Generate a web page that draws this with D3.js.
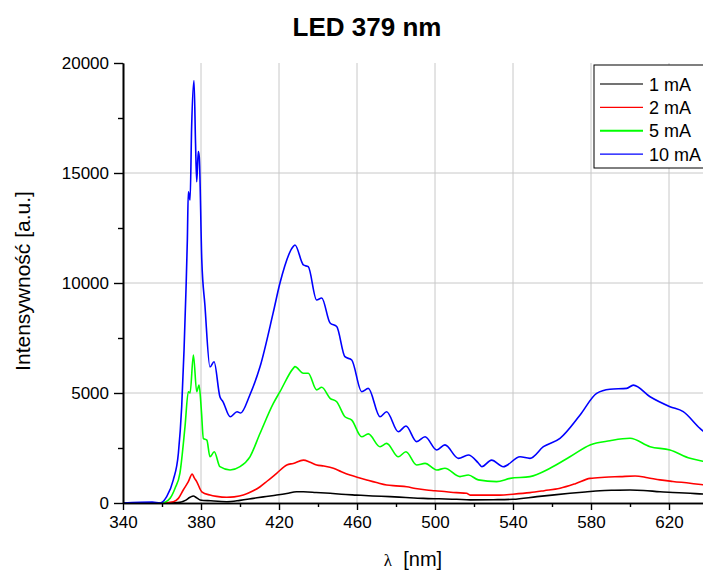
<!DOCTYPE html>
<html><head><meta charset="utf-8">
<script src="https://cdn.jsdelivr.net/npm/d3@7"></script>
<style>body{margin:0;background:#fff}svg{display:block}text{font-family:"Liberation Sans",Arial,sans-serif}</style>
</head><body><svg id="c" width="703" height="570"></svg>
<script>
const xTicks = [340,380,420,460,500,540,580,620];
const xMinorTicks = [360,400,440,480,520,560,600,640];
const yTicks = [0,5000,10000,15000,20000];
const yMinorTicks = [2500,7500,12500,17500];
const seriesNames = ["1 mA","2 mA","5 mA","10 mA"];
const seriesColors = ["#000000","#ff0000","#00ff00","#0000ff"];

const wl1  = [340,355,368,372,374.4,376.1,377.5,379.5,385,393.2,400,406.8,412,418.8,424,429,432.5,439,446.2,452,459.8,468,476.9,485,494,502,511.1,518,530,540,552.3,560,569.2,577,584.6,592,600,607,615.4,622,630.8,640,650];
const int1 = [0,0,20,120,260,320,250,140,100,60,120,210,280,360,430,510,510,480,440,400,360,320,290,250,210,190,170,140,150,170,290,360,440,500,560,580,590,570,510,480,440,400,380];

const wl2  = [340,360,365.8,368.4,370.9,373.5,375.5,376.5,377.8,380.4,384.6,388,393.2,397,401.7,406,410.3,414,418.8,424,427.3,432.5,436,439.3,443,447.9,452,456.4,461,465,470,475.2,480,485.5,490,495.7,500,505.9,511,516.2,518,525,533.3,540,548.7,556,564.1,572,579.5,587,594.9,602.6,609,615.4,622,630.8,640,650];
const int2 = [0,0,60,210,590,970,1320,1150,970,510,360,300,260,280,360,520,740,1000,1350,1730,1800,1950,1850,1730,1680,1580,1420,1270,1150,1050,930,820,780,740,660,590,560,510,470,440,360,360,360,400,470,560,670,880,1120,1170,1200,1230,1150,1050,980,900,800,720];

const wl5  = [340,360,364.1,366.7,369.2,371.8,373.5,374.4,376.1,377.8,379,380.2,381.2,383,384.6,386.8,389.7,394.9,400,405.1,410.3,417.1,420.5,427.3,428.2,432.5,435,439.3,441.9,446.2,449.6,453.8,457.3,462.4,465.8,471.8,475.2,481.2,485.1,490.6,494.9,500.9,505.1,512.8,517.1,522.2,531.6,538.5,548.7,559,569.2,579.5,589.7,600,610.3,620.5,630.8,637.4,645,650];
const int5 = [0,0,210,670,1360,3470,5060,5000,6730,5060,5360,4200,2940,2860,2100,2330,1650,1500,1650,2100,3170,4530,5060,6120,6200,5900,5900,5140,5260,4760,4600,3920,3770,3010,3140,2560,2710,2100,2330,1730,1800,1500,1580,1200,1270,1050,970,1120,1200,1580,2100,2640,2830,2940,2560,2410,2030,1900,1700,1600];

const wl10  = [340,355,359,362.4,365.8,368.4,370.1,371.3,372.3,373,373.5,374.4,375.2,376.4,377.2,377.8,378.6,379.1,380.4,382,384.6,386.7,389.7,391.3,395,398.5,400.3,405,410.3,417,420.5,427.2,428.2,432.5,435,439.3,441.9,446.2,449.6,453.8,457.3,462.4,465.8,471.8,475.2,481.2,485.1,490.6,494.9,500.9,505.1,512,517.1,522.2,524,529,535,543.6,548.7,555.6,564.1,574.4,582.9,589.7,598.3,601.7,610.3,620.5,627.3,635.9,640,650];
const int10 = [0,40,0,290,1050,2260,4380,6950,9680,11950,14150,13770,17100,19200,16350,14600,15970,15740,11050,9000,6180,6420,4830,4600,3920,4150,4090,4900,6200,8640,10000,11650,11730,10820,10740,9230,9320,8180,8020,6650,6500,5060,5210,3920,4150,3240,3500,2790,3010,2410,2640,2030,2180,1820,1650,1950,1650,2100,2030,2560,2940,4000,4980,5170,5210,5360,4830,4380,4150,3390,3100,2800];

const series = [
  {name:seriesNames[0], color:seriesColors[0], wl:wl1, v:int1},
  {name:seriesNames[1], color:seriesColors[1], wl:wl2, v:int2},
  {name:seriesNames[2], color:seriesColors[2], wl:wl5, v:int5},
  {name:seriesNames[3], color:seriesColors[3], wl:wl10, v:int10}
];

const svg = d3.select("#c");
const L = 123, T = 63, B = 503;
const x = d3.scaleLinear().domain([340,660]).range([L, L + 320*1.95]);
const y = d3.scaleLinear().domain([0,20000]).range([B, T]);
const R = x(660);

svg.append("defs").append("clipPath").attr("id","clip")
  .append("rect").attr("x",L).attr("y",T).attr("width",R-L).attr("height",B-T);

// grid
const g = svg.append("g");
g.selectAll(".vg").data(xTicks.filter(d=>d>340)).enter().append("line")
  .attr("x1",d=>x(d)).attr("x2",d=>x(d)).attr("y1",T).attr("y2",B)
  .attr("stroke","#c8c8c8").attr("stroke-width",1);
g.selectAll(".hg").data([5000,10000,15000]).enter().append("line")
  .attr("x1",L).attr("x2",R).attr("y1",d=>y(d)).attr("y2",d=>y(d))
  .attr("stroke","#c8c8c8").attr("stroke-width",1);

// lines
const line = d3.line().curve(d3.curveMonotoneX);
const lg = svg.append("g").attr("clip-path","url(#clip)");
series.forEach(s=>{
  lg.append("path")
    .attr("d", line(s.wl.map((w,i)=>[x(w), y(s.v[i])])))
    .attr("fill","none").attr("stroke",s.color).attr("stroke-width",1.6);
});

// axes
const xAxis = d3.axisBottom(x).tickValues(xTicks).tickSize(7).tickSizeOuter(0).tickPadding(6).tickFormat(d3.format("d"));
const xMinor = d3.axisBottom(x).tickValues(xMinorTicks).tickSize(4).tickSizeOuter(0).tickFormat("");
const yAxis = d3.axisLeft(y).tickValues(yTicks).tickSize(9).tickSizeOuter(0).tickPadding(5).tickFormat(d3.format("d"));
const yMinor = d3.axisLeft(y).tickValues(yMinorTicks).tickSize(5).tickSizeOuter(0).tickFormat("");

function styleAxis(sel){
  sel.select(".domain").attr("stroke","#000").attr("stroke-width",1.6);
  sel.selectAll(".tick line").attr("stroke","#000").attr("stroke-width",1.4);
  sel.selectAll(".tick text").attr("font-size",17).attr("fill","#000").attr("font-family","Liberation Sans, Arial, sans-serif");
}
svg.append("g").attr("transform",`translate(0,${B})`).call(xMinor).call(styleAxis);
svg.append("g").attr("transform",`translate(0,${B})`).call(xAxis).call(styleAxis);
svg.append("g").attr("transform",`translate(${L},0)`).call(yMinor).call(styleAxis);
svg.append("g").attr("transform",`translate(${L},0)`).call(yAxis).call(styleAxis);

// title & labels
svg.append("text").attr("x",367).attr("y",36).attr("text-anchor","middle")
  .attr("font-size",26).attr("font-weight","bold").text("LED 379 nm");
svg.append("text").attr("transform","translate(30,281) rotate(-90)").attr("text-anchor","middle")
  .attr("font-size",21).text("Intensywność [a.u.]");
const xl = svg.append("text").attr("x",413).attr("y",566).attr("text-anchor","middle").attr("font-size",20);
xl.append("tspan").attr("font-family","Liberation Serif, serif").attr("font-size",17).text("λ");
xl.append("tspan").text("  [nm]").attr("xml:space","preserve").style("white-space","pre");

// legend
const lgd = svg.append("g");
lgd.append("rect").attr("x",594).attr("y",65).attr("width",140).attr("height",103)
  .attr("fill","#fff").attr("stroke","#000").attr("stroke-width",1);
series.forEach((s,i)=>{
  const yy = 84 + i*23.4;
  lgd.append("line").attr("x1",600).attr("x2",643).attr("y1",yy).attr("y2",yy)
    .attr("stroke",s.color).attr("stroke-width", (i===0||i===2)? 2 : 1.2).attr("stroke-opacity", i===0?0.55:1);
  lgd.append("text").attr("x",649).attr("y",yy+6.5).attr("font-size",18).text(s.name);
});
</script></body></html>
